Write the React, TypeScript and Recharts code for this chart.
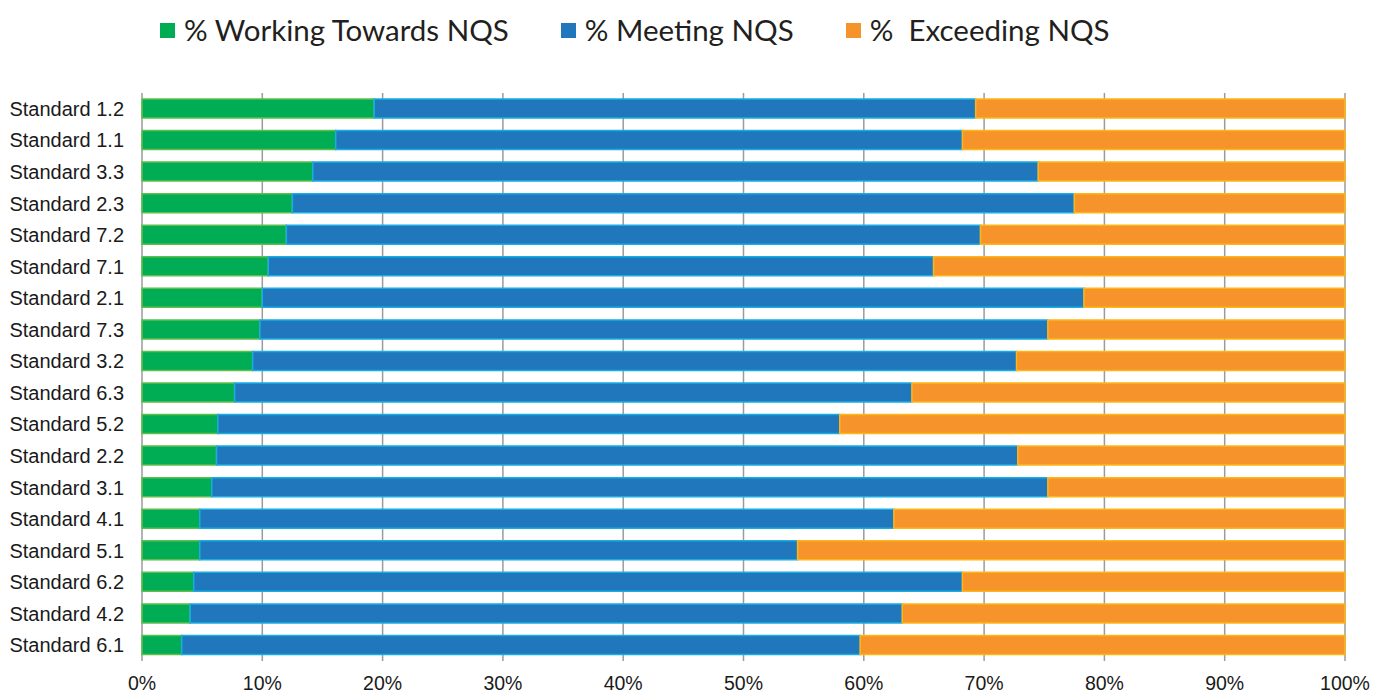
import React from 'react';
import { BarChart, Bar, XAxis, YAxis, CartesianGrid } from 'recharts';

const categories = [
  'Standard 1.2', 'Standard 1.1', 'Standard 3.3', 'Standard 2.3', 'Standard 7.2', 'Standard 7.1',
  'Standard 2.1', 'Standard 7.3', 'Standard 3.2', 'Standard 6.3', 'Standard 5.2', 'Standard 2.2',
  'Standard 3.1', 'Standard 4.1', 'Standard 5.1', 'Standard 6.2', 'Standard 4.2', 'Standard 6.1',
];
const working = [19.3, 16.1, 14.2, 12.5, 12.0, 10.5, 10.0, 9.8, 9.2, 7.7, 6.3, 6.2, 5.8, 4.8, 4.8, 4.3, 4.0, 3.3];
const meeting = [50.0, 52.1, 60.3, 65.0, 57.7, 55.3, 68.3, 65.5, 63.5, 56.3, 51.7, 66.6, 69.5, 57.7, 49.7, 63.9, 59.2, 56.4];
const exceeding = [30.7, 31.8, 25.5, 22.5, 30.3, 34.2, 21.7, 24.7, 27.3, 36.0, 42.0, 27.2, 24.7, 37.5, 45.5, 31.8, 36.8, 40.3];
const xTicks = [0, 10, 20, 30, 40, 50, 60, 70, 80, 90, 100];

const seriesNames = ['% Working Towards NQS', '% Meeting NQS', '%  Exceeding NQS'];
const seriesKeys = ['working', 'meeting', 'exceeding'];
const seriesFill = ['#00AC54', '#2177BC', '#F7932B'];
const seriesStroke = ['#5EBE4E', '#19ADE4', '#FDB618'];

const data = categories.map((name, i) => ({
  name,
  working: working[i],
  meeting: meeting[i],
  exceeding: exceeding[i],
}));

export default function App() {
  return (
    <div style={{ position: 'absolute', left: 0, top: 0, width: 1375, height: 695, background: '#fff' }}>
      <div
        style={{
          position: 'absolute',
          top: 11,
          left: 160,
          display: 'flex',
          alignItems: 'center',
          gap: 52,
          fontFamily: 'Lato, "Noto Sans", sans-serif',
          fontSize: 29.5,
          color: '#231F20',
          whiteSpace: 'pre',
          lineHeight: '38px',
        }}
      >
        {seriesNames.map((n, i) => (
          <div key={n} style={{ display: 'flex', alignItems: 'center' }}>
            <span style={{ display: 'inline-block', width: 15, height: 15, background: seriesFill[i], marginRight: 9 }} />
            <span>{n}</span>
          </div>
        ))}
      </div>
      <BarChart
        width={1375}
        height={695}
        data={data}
        layout="vertical"
        margin={{ top: 93, right: 30, left: 0, bottom: 0 }}
        barSize={19}
      >
        <CartesianGrid horizontal={false} vertical={true} stroke="#9B9B9B" strokeWidth={1.5} />
        <XAxis
          type="number"
          domain={[0, 100]}
          ticks={xTicks}
          tickFormatter={(v: number) => `${v}%`}
          axisLine={false}
          tickLine={false}
          tickSize={0}
          tickMargin={15}
          height={34}
          interval={0}
          tick={{ fontFamily: '"Liberation Sans", Arial, sans-serif', fontSize: 19.5, fill: '#1A1A1A' }}
        />
        <YAxis
          type="category"
          dataKey="name"
          width={142}
          axisLine={false}
          tickLine={false}
          tickSize={0}
          tickMargin={18}
          interval={0}
          tick={{ fontFamily: '"Liberation Sans", Arial, sans-serif', fontSize: 20, fill: '#1A1A1A' }}
        />
        {seriesKeys.map((k, i) => (
          <Bar
            key={k}
            dataKey={k}
            stackId="a"
            fill={seriesFill[i]}
            stroke={seriesStroke[i]}
            strokeWidth={1.5}
            isAnimationActive={false}
          />
        ))}
      </BarChart>
    </div>
  );
}
